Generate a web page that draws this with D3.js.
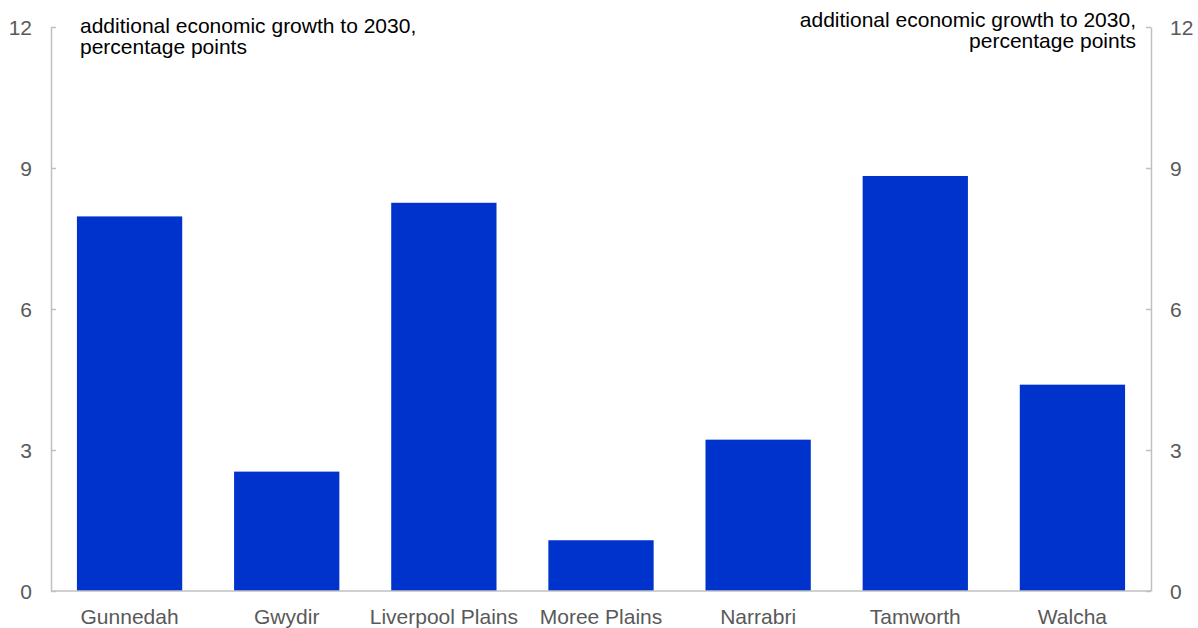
<!DOCTYPE html>
<html>
<head>
<meta charset="utf-8">
<script src="https://cdnjs.cloudflare.com/ajax/libs/d3/7.8.5/d3.min.js"></script>
<style>
  body { margin: 0; background: #fff; }
  svg { display: block; font-family: Arial, "Liberation Sans", sans-serif; }
</style>
</head>
<body>
<svg id="chart" width="1198" height="628"></svg>
<script>
// Chart data
var regions = ["Gunnedah", "Gwydir", "Liverpool Plains", "Moree Plains", "Narrabri", "Tamworth", "Walcha"];
var growth = [7.97, 2.54, 8.26, 1.08, 3.22, 8.83, 4.39];
var yTicks = [0, 3, 6, 9, 12];
var unitLines = ["additional economic growth to 2030,", "percentage points"];

var svg = d3.select("#chart");

// plot area
var plotLeft = 51, plotRight = 1151, plotTop = 27, plotBottom = 591;
var fontSize = 21;

var x = d3.scaleBand()
  .domain(regions)
  .range([plotLeft, plotRight])
  .paddingInner(0.33)
  .paddingOuter(0.165);

var y = d3.scaleLinear()
  .domain([0, 12])
  .range([plotBottom, plotTop]);

// bars
svg.selectAll("rect.bar")
  .data(regions)
  .enter()
  .append("rect")
  .attr("class", "bar")
  .attr("x", d => x(d))
  .attr("width", x.bandwidth())
  .attr("y", (d, i) => y(growth[i]))
  .attr("height", (d, i) => y(0) - y(growth[i]))
  .attr("fill", "#0033cc");

// left axis, ticks pointing into the plot
var leftAxis = svg.append("g")
  .attr("transform", `translate(${plotLeft},0)`)
  .call(d3.axisRight(y).tickValues(yTicks).tickSize(5).tickSizeOuter(0).tickFormat(""));

// right axis, ticks pointing into the plot
var rightAxis = svg.append("g")
  .attr("transform", `translate(${plotRight},0)`)
  .call(d3.axisLeft(y).tickValues(yTicks).tickSize(5).tickSizeOuter(0).tickFormat(""));

[leftAxis, rightAxis].forEach(g => {
  g.select(".domain").attr("stroke", "#c0c0c0").attr("stroke-width", 1.5);
  g.selectAll(".tick line").attr("stroke", "#c0c0c0").attr("stroke-width", 1.5);
});

// tick labels
svg.selectAll("text.ylabL")
  .data(yTicks)
  .enter()
  .append("text")
  .attr("class", "ylabL")
  .attr("x", 32)
  .attr("y", d => y(d) + 7.5)
  .attr("text-anchor", "end")
  .attr("font-size", fontSize)
  .attr("fill", "#595959")
  .text(d => d);

svg.selectAll("text.ylabR")
  .data(yTicks)
  .enter()
  .append("text")
  .attr("class", "ylabR")
  .attr("x", 1170)
  .attr("y", d => y(d) + 7.5)
  .attr("text-anchor", "start")
  .attr("font-size", fontSize)
  .attr("fill", "#595959")
  .text(d => d);

// baseline
svg.append("line")
  .attr("x1", plotLeft).attr("x2", plotRight)
  .attr("y1", y(0)).attr("y2", y(0))
  .attr("stroke", "#c0c0c0")
  .attr("stroke-width", 1.5);

// category labels
svg.selectAll("text.cat")
  .data(regions)
  .enter()
  .append("text")
  .attr("class", "cat")
  .attr("x", d => x(d) + x.bandwidth() / 2)
  .attr("y", 624)
  .attr("text-anchor", "middle")
  .attr("font-size", fontSize)
  .attr("fill", "#595959")
  .text(d => d);

// unit notes
unitLines.forEach((line, i) => {
  svg.append("text")
    .attr("x", 80)
    .attr("y", 33 + i * 21)
    .attr("font-size", fontSize)
    .attr("fill", "#000")
    .text(line);
  svg.append("text")
    .attr("x", 1136)
    .attr("y", 27 + i * 21)
    .attr("text-anchor", "end")
    .attr("font-size", fontSize)
    .attr("fill", "#000")
    .text(line);
});
</script>
</body>
</html>
